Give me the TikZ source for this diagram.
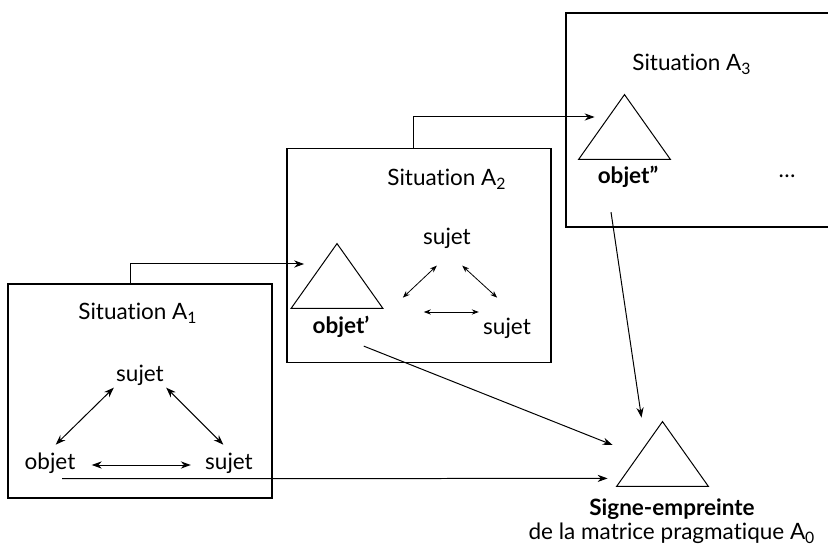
\documentclass[tikz,border=0pt]{standalone}
\usepackage{fontspec}
\setmainfont{Lato}[Ligatures=NoCommon]
\usetikzlibrary{arrows.meta,positioning}

\begin{document}
\begin{tikzpicture}[
x=0.5bp, y=-0.5bp,
situacao/.style={draw, line width=0.6pt, minimum width=132bp, minimum height=107bp, inner sep=0},
rotulo/.style={font=\fontsize{11.3}{12.2}\selectfont, inner sep=1bp},
forme/.style={minimum width=45.5bp, minimum height=32bp, inner sep=0},
seta/.style={-{Stealth[length=5bp,width=3.6bp]}, line width=0.5pt},
dupla/.style={{Stealth[length=5bp,width=3.6bp]}-{Stealth[length=5bp,width=3.6bp]}, line width=0.5pt},
petite/.style={{Stealth[length=3.5bp,width=2.6bp]}-{Stealth[length=3.5bp,width=2.6bp]}, line width=0.4pt}
]
\useasboundingbox (0,0) rectangle (828,547);

% les trois situations
\node[situacao] (sitA) at (140,391) {};
\node[situacao] (sitB) at (419,255.5) {};
\node[situacao] (sitC) at (698,120) {};

% situation A1
\node[rotulo] (titA) at (138,313) {Situation A\textsubscript{1}};
\node[rotulo] (sujA) at (140,375) {sujet};
\node[rotulo] (objA) at (50,463) {objet};
\node[rotulo] (sujAd) at (229,463) {sujet};
\draw[dupla, shorten >=4bp] (sujA.south west) -- (objA.north);
\draw[dupla, shorten >=4bp] (sujA.south east) -- (sujAd.north);
\draw[dupla, shorten <=7bp, shorten >=6bp] ([yshift=-1bp]objA.east) -- ([yshift=-1bp]sujAd.west);

% situation A2
\node[rotulo] (titB) at (447,179) {Situation A\textsubscript{2}};
\node[forme] (triB) at (337,276) {};
\draw[line width=0.5pt] (triB.south west) -- (triB.north) -- (triB.south east) -- cycle;
\node[rotulo] (objB) at (341,327) {\textbf{objet’}};
\node[rotulo] (sujB) at (447,238) {sujet};
\node[rotulo] (sujBd) at (507,328) {sujet};
\draw[petite] ([shift={(16,15)}]sujB.south west) -- ([shift={(-18,47)}]sujB.south west);
\draw[petite] ([shift={(-11,15)}]sujB.south east) -- ([shift={(24,47)}]sujB.south east);
\draw[petite] ([shift={(-57,-16)}]sujBd.west) -- ([shift={(-2,-16)}]sujBd.west);

% situation A3
\node[rotulo] (titC) at (692,64) {Situation A\textsubscript{3}};
\node[forme] (triC) at (624.5,127) {};
\draw[line width=0.5pt] (triC.south west) -- (triC.north) -- (triC.south east) -- cycle;
\node[rotulo] (objC) at (628,177) {\textbf{objet”}};
\node[rotulo] (suite) at (787,176) {\dots};

% signe-empreinte
\node[forme] (triS) at (662.5,454) {};
\draw[line width=0.5pt] (triS.south west) -- (triS.north) -- (triS.south east) -- cycle;
\node[rotulo, align=center] (legS) at (672,521) {\textbf{Signe-empreinte}\\de la matrice pragmatique A\textsubscript{0}};

% passages d'une situation a l'autre
\draw[seta] ([shift={(-10,0)}]sitA.north) |- ([shift={(13,-12)}]triB.west);
\draw[seta] ([shift={(-6,0)}]sitB.north) |- ([shift={(16,-10)}]triC.west);

% vers le signe
\draw[seta] ([shift={(12,3)}]objA.south) -- ([shift={(-9,-8)}]triS.south west);
\draw[seta] ([shift={(-8,6)}]objB.south east) -- ([shift={(-4,-9)}]triS.west);
\draw[seta] ([shift={(-17,22)}]objC.south) -- ([shift={(-21,-4)}]triS.north);
\end{tikzpicture}
\end{document}
